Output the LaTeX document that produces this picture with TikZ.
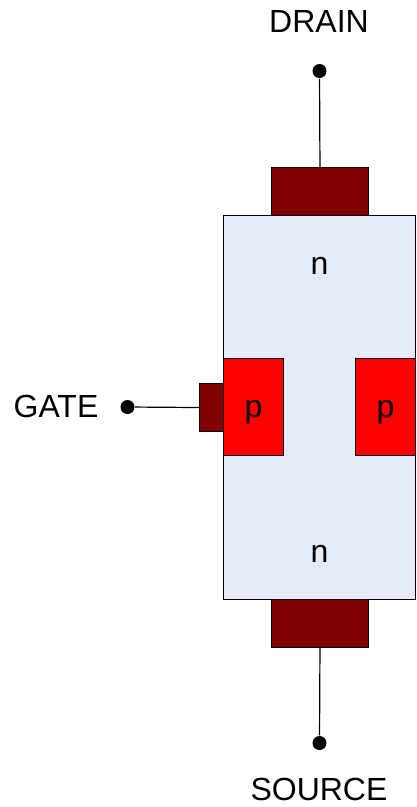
\documentclass[tikz,border=0pt]{standalone}
\usepackage{fontspec}
\setmainfont{Liberation Sans}
\definecolor{bodyfill}{HTML}{E6ECF7}
\definecolor{padfill}{HTML}{800000}
\tikzset{
	block/.style = {draw = black, line width = 1.2pt, rectangle, inner sep = 0pt, anchor = north west},
	terminal/.style = {fill = black, circle, minimum size = 14pt, inner sep = 0pt},
	label/.style = {font = \fontsize{32}{36}\selectfont, inner sep = 0pt, anchor = base}
}
\begin{document}
\begin{tikzpicture}[x = 1pt,y = -1pt,line width = 1.2pt]
	\useasboundingbox (0,0) rectangle (417,807);
	
	\node[block,fill = bodyfill,minimum width = 191.5pt,minimum height = 383.5pt] (channel) at (223,215) {};
	\node[block,fill = padfill,minimum width = 96.5pt,minimum height = 48pt] (drainpad) at (271.25,167) {};
	\node[block,fill = padfill,minimum width = 96.5pt,minimum height = 48pt] (sourcepad) at (271.25,598.5) {};
	\node[block,fill = red,minimum width = 60pt,minimum height = 96.5pt] (leftp) at (223,358) {};
	\node[block,fill = red,minimum width = 60pt,minimum height = 96.5pt] (rightp) at (355,358) {};
	\node[block,fill = padfill,minimum width = 24pt,minimum height = 48pt] (gatepad) at (199,383) {};
	
	\node[terminal] (drainpin) at (319.5,71) {};
	\node[terminal] (sourcepin) at (319.5,743) {};
	\node[terminal] (gatepin) at (127.5,407) {};
	
	\draw (drainpin) -- (drainpad);
	\draw (sourcepin) -- (sourcepad);
	\draw (gatepin) -- (gatepad);
	
	\node[label] (drainlabel) at (319,32.5) {DRAIN};
	\node[label] (sourcelabel) at (319,800) {SOURCE};
	\node[label] (gatelabel) at (56,417) {GATE};
	\node[label] (topn) at (319.5,274) {n};
	\node[label] (bottomn) at (319.5,562) {n};
	\node[label] (leftlabel) at (253.5,417) {p};
	\node[label] (rightlabel) at (385.5,417) {p};
\end{tikzpicture}
\end{document}
